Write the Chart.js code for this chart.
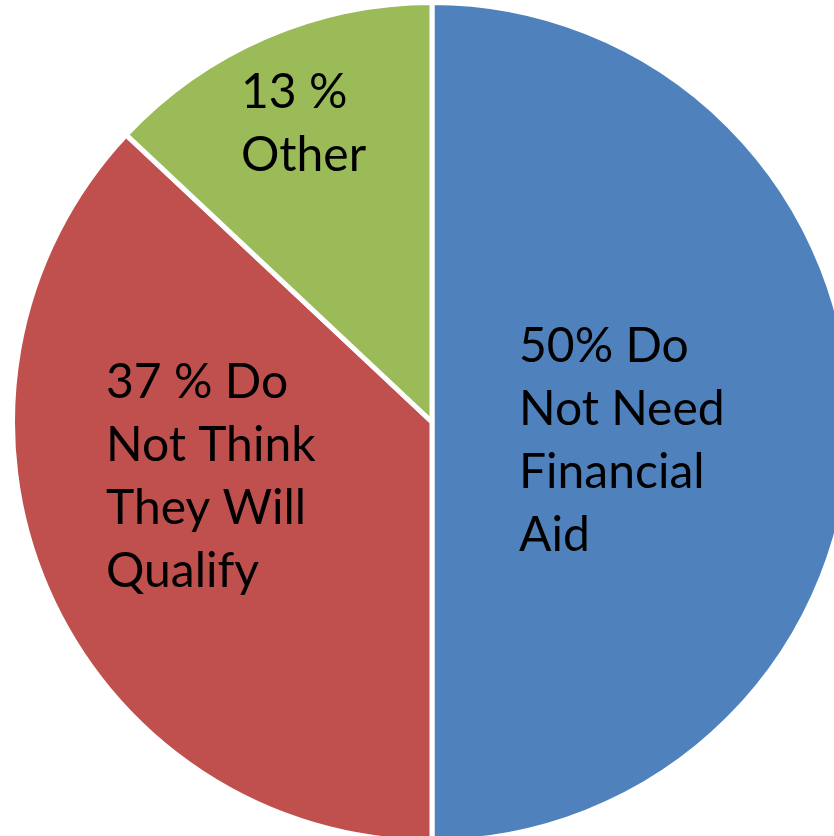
<!DOCTYPE html>
<html>
<head>
<meta charset="utf-8">
<script src="https://cdn.jsdelivr.net/npm/chart.js@4.4.1/dist/chart.umd.min.js"></script>
<style>
html,body{margin:0;padding:0;background:#fff;width:834px;height:836px;overflow:hidden;}
#wrap{position:absolute;left:10px;top:0px;width:844px;height:844px;}
</style>
</head>
<body>
<div id="wrap"><canvas id="c" width="844" height="844"></canvas></div>
<script>
const categories = ["Do Not Need Financial Aid", "Do Not Think They Will Qualify", "Other"];
const values = [50, 37, 13];
const labelLines = [
  ["50% Do", "Not Need", "Financial", "Aid"],
  ["37 % Do", "Not Think", "They Will", "Qualify"],
  ["13 %", "Other"]
];
const colors = ["#4F81BD", "#C0504D", "#9BBB59"];

// label anchor offsets (px) from pie centre: left edge x, first baseline y
const labelAnchor = [[87, -60], [-326, -24], [-191, -314]];
const lineHeight = 63;
const fontSpec = "48px Lato";

const labelPlugin = {
  id: 'sliceLabels',
  afterDatasetsDraw(chart) {
    const ctx = chart.ctx;
    const meta = chart.getDatasetMeta(0);
    const arc = meta.data[0];
    const cx = arc.x, cy = arc.y;
    ctx.save();
    ctx.font = fontSpec;
    ctx.fillStyle = "#000";
    ctx.textAlign = "left";
    ctx.textBaseline = "alphabetic";
    labelLines.forEach((lines, i) => {
      const [ox, oy] = labelAnchor[i];
      lines.forEach((t, j) => ctx.fillText(t, cx + ox, cy + oy + j * lineHeight));
    });
    ctx.restore();
  }
};

new Chart(document.getElementById('c'), {
  type: 'pie',
  data: {
    labels: categories,
    datasets: [{
      data: values,
      backgroundColor: colors,
      borderColor: "#ffffff",
      borderWidth: 5
    }]
  },
  options: {
    responsive: false,
    animation: false,
    rotation: 0,
    layout: { padding: 0 },
    plugins: { legend: { display: false }, tooltip: { enabled: false } }
  },
  plugins: [labelPlugin]
});
</script>
</body>
</html>
